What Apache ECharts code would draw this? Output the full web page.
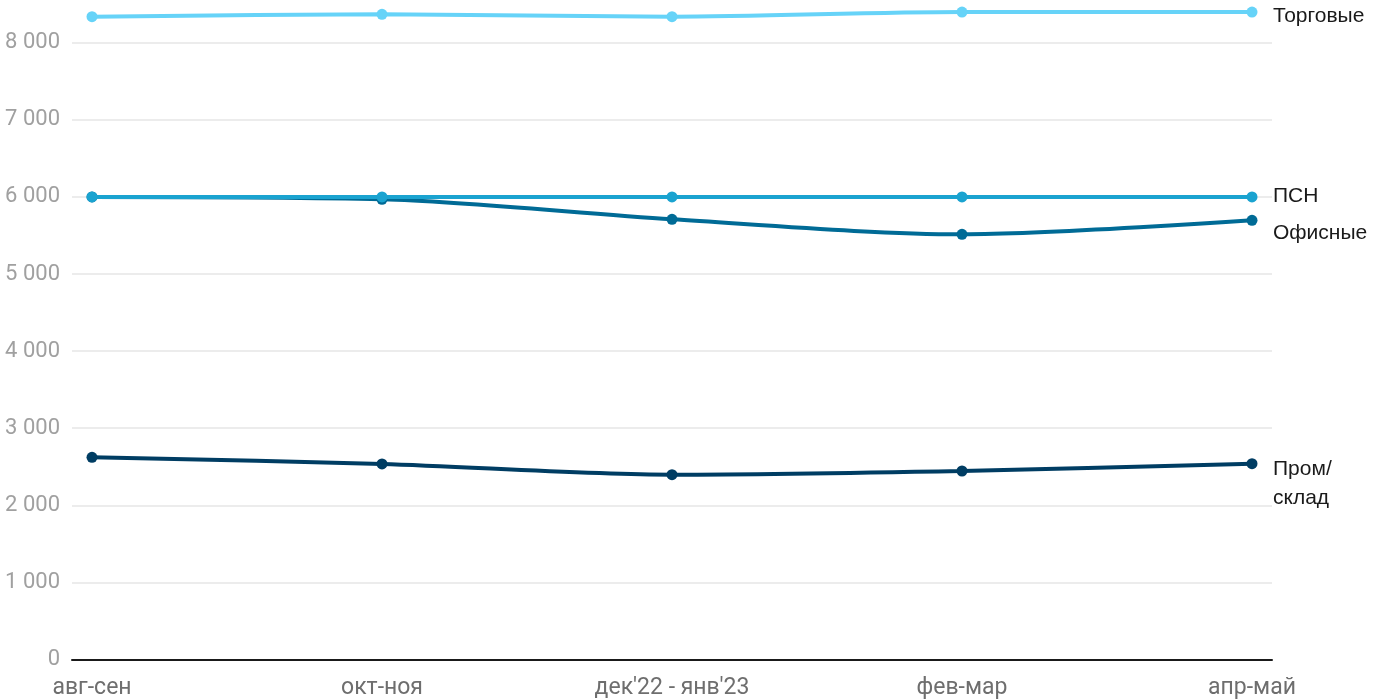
<!DOCTYPE html>
<html><head><meta charset="utf-8">
<script src="https://cdn.jsdelivr.net/npm/echarts@6/dist/echarts.min.js"></script>
<style>html,body{margin:0;padding:0;background:#fff}#c{width:1400px;height:700px}</style>
</head><body><div id="c"></div>
<script>
const categories = ["авг-сен", "окт-ноя", "дек'22 - янв'23", "фев-мар", "апр-май"];
const seriesNames = ["Торговые", "ПСН", "Офисные", "Пром/\nсклад"];
const torgovye = [8337, 8368, 8337, 8398, 8398];
const psn = [6000, 6000, 6000, 6000, 6000];
const ofisnye = [6000, 5969, 5709, 5515, 5696];
const prom = [2622, 2536, 2397, 2445, 2540];
const yTicks = [0, 1000, 2000, 3000, 4000, 5000, 6000, 7000, 8000];

const colors = ["#66d3f8", "#1aa3d0", "#006b96", "#003d63"];
const values = [torgovye, psn, ofisnye, prom];
const offsets = [[0, 4], [0, -1], [0, 13], [0, 20]];

const yMin = yTicks[0], yMax = yTicks[yTicks.length - 1];
const chart = echarts.init(document.getElementById('c'));
chart.setOption({
  animation: false,
  grid: [
    { left: 92, right: 148, top: 42.7, bottom: 40.5 },
    { left: 72, right: 128, top: 42.7, bottom: 40.5 }
  ],
  xAxis: [
    {
      gridIndex: 0, type: 'category', data: categories, boundaryGap: false,
      axisLine: { show: false }, axisTick: { show: false }, splitLine: { show: false },
      axisLabel: { margin: 17, color: '#6e6e6e', fontSize: 23, fontFamily: 'Roboto', interval: 0 }
    },
    {
      gridIndex: 1, type: 'value', min: 0, max: 1,
      axisLine: { show: true, onZero: false, lineStyle: { color: '#1a1a1a', width: 2 } },
      axisTick: { show: false }, splitLine: { show: false }, axisLabel: { show: false }
    }
  ],
  yAxis: [
    {
      gridIndex: 0, type: 'value', min: yMin, max: yMax, interval: 1000,
      axisLine: { show: false }, axisTick: { show: false },
      splitLine: { show: false }, axisLabel: { show: false }
    },
    {
      gridIndex: 1, type: 'value', min: yMin, max: yMax, interval: 1000,
      axisLine: { show: false }, axisTick: { show: false },
      splitLine: { lineStyle: { color: '#e6e6e6', width: 1.5 } },
      axisLabel: {
        margin: 12, color: '#a0a0a0', fontSize: 22, fontFamily: 'Roboto',
        formatter: v => String(v).replace(/\B(?=(\d{3})+(?!\d))/g, ' ')
      }
    }
  ],
  series: values.map((arr, i) => ({
    name: seriesNames[i],
    type: 'line',
    xAxisIndex: 0, yAxisIndex: 0,
    clip: false,
    smooth: 0.3,
    symbol: 'circle',
    symbolSize: 11,
    z: 10 - i,
    data: arr,
    lineStyle: { color: colors[i], width: 4 },
    itemStyle: { color: colors[i] },
    endLabel: {
      show: true,
      formatter: seriesNames[i],
      distance: 21,
      offset: offsets[i],
      color: '#1a1a1a',
      fontSize: 21,
      lineHeight: 29,
      fontFamily: 'Liberation Sans, Arial, sans-serif'
    }
  }))
});
</script></body></html>
